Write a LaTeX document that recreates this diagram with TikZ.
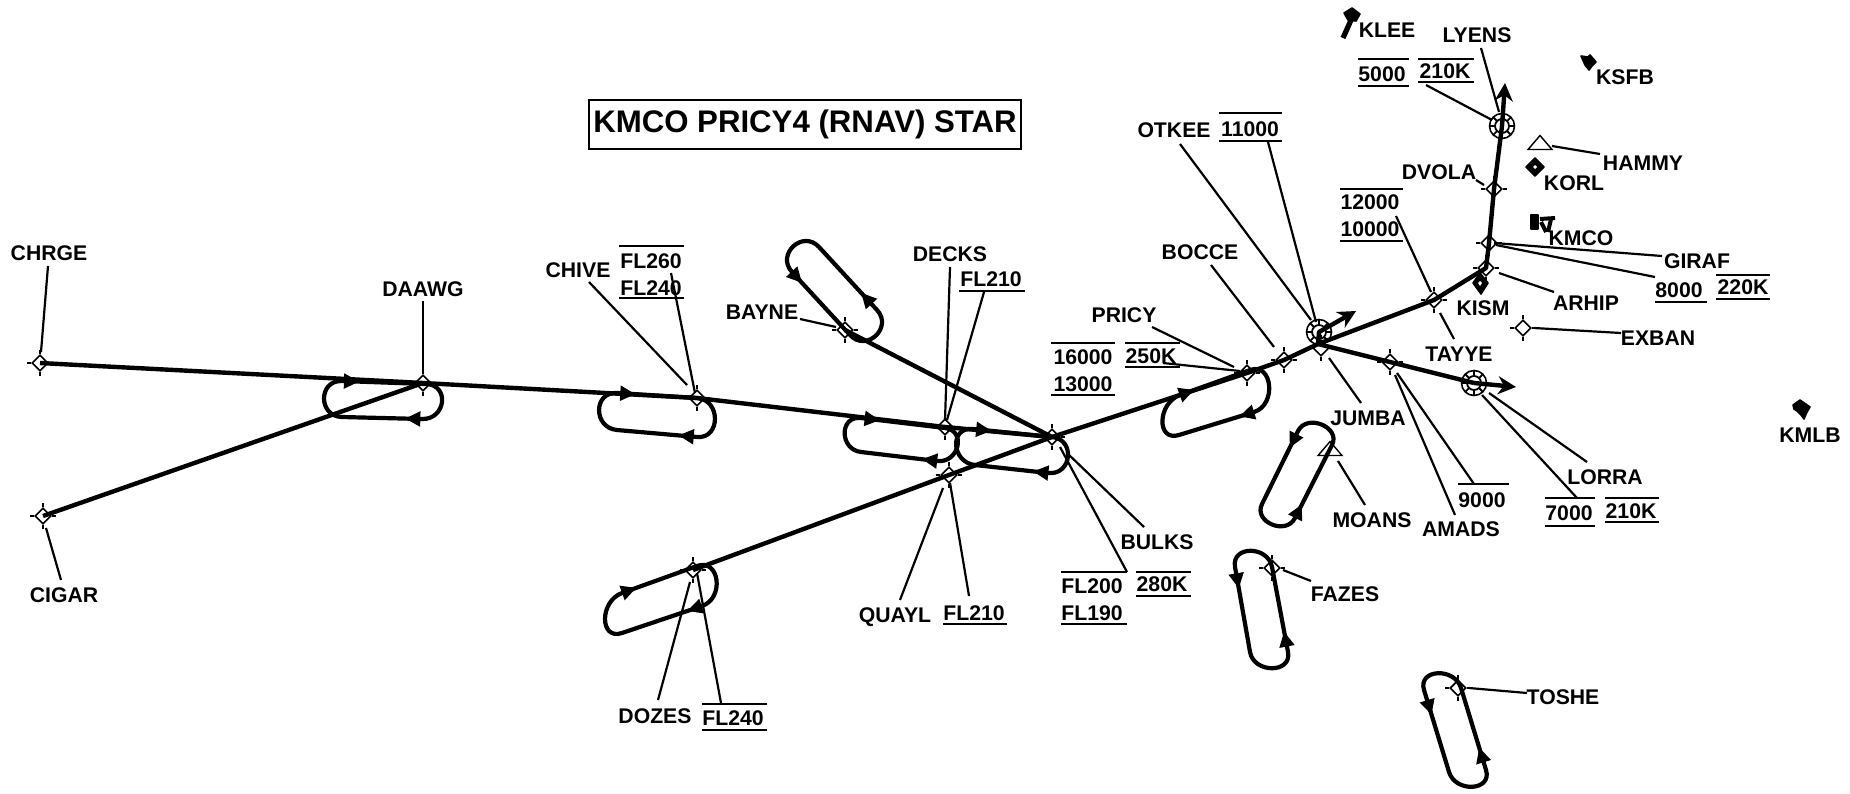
\documentclass[tikz,border=0pt]{standalone}
\usepackage{fontspec}
\setmainfont{Liberation Sans}
\usetikzlibrary{arrows.meta,calc,shapes.geometric}
\tikzset{
  lbl/.style={inner sep=0pt,text depth=0pt,font=\fontsize{10.6}{12}\selectfont\bfseries},
  titlebox/.style={draw,line width=.8pt,minimum width=216pt,minimum height=24.5pt,inner sep=0pt,font=\fontsize{15.6}{18}\selectfont\bfseries},
  fixmark/.style={draw,diamond,aspect=1,inner sep=0pt,minimum width=8pt,minimum height=8pt,line width=.8pt},
  fixtick/.style={line width=.9pt},
  vorring/.style={draw,circle,inner sep=0pt,minimum size=12.5pt,line width=.8pt},
  tri/.style={draw,line width=.7pt,isosceles triangle,shape border rotate=90,isosceles triangle stretches,inner sep=0pt,minimum width=12pt,minimum height=7pt},
  route/.style={line width=2.2pt,line join=round},
  routetip/.style={route,-{Stealth[length=9pt,width=9pt]}},
  holdline/.style={line width=2.1pt,line join=round},
  holdtip/.style={fill=black,isosceles triangle,isosceles triangle apex angle=55,inner sep=0pt,minimum height=7.5pt,sloped,allow upside down},
  leader/.style={line width=1.1pt},
  altline/.style={line width=.8pt},
  blob/.style={fill=black,draw=black,line width=.8pt,line join=round},
}
\newcommand\fix[3]{\node[fixmark] (#1) at (#2,#3) {};
  \draw[fixtick] (#1.north) -- ++(0,-4) (#1.south) -- ++(0,4) (#1.east) -- ++(4,0) (#1.west) -- ++(-4,0);}
\newcommand\vor[3]{\node[vorring] (#1) at (#2,#3) {};
  \draw[fixtick] (#1.center) circle[radius=3.5pt];
  \foreach \a in {0,45,...,315}{\draw[fixtick] (#1.center) ++(\a:7) -- ++(\a:5);}}
\newcommand\lead[6]{\draw[leader] ([shift={(#2,#3)}]#1.center) -- ([shift={(#5,#6)}]#4.center);}
\newcommand\altbar[3]{\draw[altline] (#1,#3) -- (#2,#3);}
\newcommand\hold[7]{\draw[holdline] (#1) -- node[holdtip,pos=#6] {} (#2)
  .. controls ($(#2)!-#5!(#1)$) and ($(#3)!-#5!(#4)$) .. (#3)
  -- node[holdtip,pos=#7] {} (#4)
  .. controls ($(#4)!-#5!(#3)$) and ($(#1)!-#5!(#2)$) .. (#1);}
\begin{document}
\begin{tikzpicture}[x=.5pt,y=-.5pt]
\useasboundingbox (0,0) rectangle (1850,793);
\node[titlebox] (title) at (805,124.5) {KMCO PRICY4 (RNAV) STAR};
% fixes
\fix{fCHRGE}{40}{363}
\fix{fCIGAR}{43}{516}
\fix{fDAAWG}{423}{383}
\fix{fCHIVE}{697}{398}
\fix{fDECKS}{945}{427}
\fix{fBULKS}{1052}{437}
\fix{fBAYNE}{845}{330}
\fix{fQUAYL}{949}{475}
\fix{fDOZES}{693}{570}
\fix{fPRICY}{1247}{373}
\fix{fBOCCE}{1284}{360}
\fix{fJUMBA}{1321}{348}
\fix{fTAYYE}{1434}{300}
\fix{fARHIP}{1486}{268}
\fix{fGIRAF}{1489}{243}
\fix{fDVOLA}{1494}{189}
\fix{fAMADS}{1390}{362}
\fix{fEXBAN}{1523}{328}
\fix{fFAZES}{1272}{568}
\fix{fTOSHE}{1458}{688}
\vor{vOTKEE}{1319}{332}
\vor{vLYENS}{1502}{126}
\vor{vLORRA}{1474}{383}
\node[tri] (tHAMMY) at (1540,144) {};
\node[tri] (tMOANS) at (1330,450) {};
\coordinate (jct) at (1318,344);
\coordinate (tipLYENS) at (1505,83);
\coordinate (tipOTKEE) at (1356,311);
\coordinate (tipLORRA) at (1516,387);
% routes
\draw[route] (fCHRGE.center) -- (fDAAWG.center) -- (fCHIVE.center) -- (fDECKS.center) -- (fBULKS.center);
\draw[route] (fCIGAR.center) -- (fDAAWG.center);
\draw[route] (fBAYNE.center) -- (fBULKS.center);
\draw[route] (fDOZES.center) -- (fQUAYL.center) -- (fBULKS.center) -- (fPRICY.center) -- (fBOCCE.center) -- (jct);
\draw[route] (jct) -- (fTAYYE.center) -- (fARHIP.center) -- (fGIRAF.center) -- (fDVOLA.center) -- (vLYENS.center);
\draw[routetip] (vLYENS.center) -- (tipLYENS);
\draw[routetip] (jct) -- (vOTKEE.center) -- (tipOTKEE);
\draw[route] (jct) -- (fAMADS.center) -- (vLORRA.center);
\draw[routetip] (vLORRA.center) -- (tipLORRA);
% holds
\hold{342,381}{426,384}{422,419}{342,417}{12pt}{.08}{.08}
\hold{617,393}{697,398}{697,437}{617,430}{12pt}{.1}{.1}
\hold{861,418}{945,428}{937,461}{861,452}{11pt}{.1}{.06}
\hold{973,429}{1052,437}{1048,473}{975,465}{12pt}{.1}{.06}
\hold{1180,395}{1250,370}{1254,412}{1179,435}{12pt}{.06}{.06}
\hold{622,593}{697,566}{702,606}{622,633}{12pt}{.06}{.06}
\hold{792,272}{850,335}{877,310}{819,247}{12pt}{.05}{.15}
\hold{1295,518}{1332,445}{1298,431}{1262,504}{10pt}{.06}{.1}
\hold{1288,652}{1272,567}{1235,567}{1250,652}{11pt}{.12}{.13}
\hold{1486,770}{1461,688}{1424,690}{1449,772}{11pt}{.15}{.18}
% labels
\node[lbl] (lCHRGE) at (49,253) {CHRGE};
\node[lbl] (lCIGAR) at (64,595) {CIGAR};
\node[lbl] (lDAAWG) at (423,289) {DAAWG};
\node[lbl] (lCHIVE) at (578,270) {CHIVE};
\node[lbl] (aCHIVEt) at (651,261) {FL260};
\node[lbl] (aCHIVEb) at (651,288) {FL240};
\node[lbl] (lDECKS) at (950,254) {DECKS};
\node[lbl] (aDECKS) at (991,279) {FL210};
\node[lbl] (lBAYNE) at (762,312) {BAYNE};
\node[lbl] (lQUAYL) at (895,615) {QUAYL};
\node[lbl] (aQUAYL) at (974,613) {FL210};
\node[lbl] (lDOZES) at (655,716) {DOZES};
\node[lbl] (aDOZES) at (733,718) {FL240};
\node[lbl] (lBULKS) at (1157,542) {BULKS};
\node[lbl] (aBULKSt) at (1092,586) {FL200};
\node[lbl] (aBULKSb) at (1092,613) {FL190};
\node[lbl] (sBULKS) at (1162,584) {280K};
\node[lbl] (lPRICY) at (1124,315) {PRICY};
\node[lbl] (aPRICYt) at (1083,357) {16000};
\node[lbl] (aPRICYb) at (1083,384) {13000};
\node[lbl] (sPRICY) at (1151,356) {250K};
\node[lbl] (lBOCCE) at (1200,252) {BOCCE};
\node[lbl] (lOTKEE) at (1174,130) {OTKEE};
\node[lbl] (aOTKEE) at (1250,129) {11000};
\node[lbl] (lJUMBA) at (1368,418) {JUMBA};
\node[lbl] (aTAYYEt) at (1370,202) {12000};
\node[lbl] (aTAYYEb) at (1370,229) {10000};
\node[lbl] (lTAYYE) at (1459,354) {TAYYE};
\node[lbl] (lAMADS) at (1461,529) {AMADS};
\node[lbl] (aAMADS) at (1482,500) {9000};
\node[lbl] (lLORRA) at (1605,477) {LORRA};
\node[lbl] (aLORRA) at (1569,513) {7000};
\node[lbl] (sLORRA) at (1631,511) {210K};
\node[lbl] (lMOANS) at (1372,520) {MOANS};
\node[lbl] (lFAZES) at (1345,594) {FAZES};
\node[lbl] (lTOSHE) at (1563,697) {TOSHE};
\node[lbl] (lEXBAN) at (1658,338) {EXBAN};
\node[lbl] (lARHIP) at (1586,303) {ARHIP};
\node[lbl] (lKISM) at (1483,308) {KISM};
\node[lbl] (lGIRAF) at (1697,261) {GIRAF};
\node[lbl] (aGIRAF) at (1679,290) {8000};
\node[lbl] (sGIRAF) at (1743,287) {220K};
\node[lbl] (lDVOLA) at (1439,172) {DVOLA};
\node[lbl] (lLYENS) at (1477,35) {LYENS};
\node[lbl] (aLYENS) at (1382,74) {5000};
\node[lbl] (sLYENS) at (1445,71) {210K};
\node[lbl] (lHAMMY) at (1643,163) {HAMMY};
\node[lbl] (lKLEE) at (1387,30) {KLEE};
\node[lbl] (lKSFB) at (1625,77) {KSFB};
\node[lbl] (lKORL) at (1574,183) {KORL};
\node[lbl] (lKMCO) at (1581,238) {KMCO};
\node[lbl] (lKMLB) at (1810,435) {KMLB};
% altitude and speed bars
\altbar{619}{684}{246}\altbar{619}{684}{298}
\altbar{959}{1025}{291}
\altbar{943}{1007}{624}
\altbar{702}{767}{704}\altbar{702}{767}{730}
\altbar{1061}{1127}{572}\altbar{1061}{1127}{624}
\altbar{1136}{1191}{572}\altbar{1136}{1191}{596}
\altbar{1051}{1115}{343}\altbar{1051}{1115}{395}
\altbar{1125}{1180}{343}\altbar{1125}{1180}{367}
\altbar{1219}{1282}{113}\altbar{1219}{1282}{141}
\altbar{1340}{1403}{189}\altbar{1340}{1403}{241}
\altbar{1458}{1509}{484}
\altbar{1545}{1595}{498}\altbar{1545}{1595}{526}
\altbar{1605}{1659}{498}\altbar{1605}{1659}{522}
\altbar{1655}{1707}{302}
\altbar{1716}{1770}{275}\altbar{1716}{1770}{299}
\altbar{1358}{1409}{59}\altbar{1358}{1409}{86}
\altbar{1418}{1474}{59}\altbar{1418}{1474}{82}
% leaders
\lead{lCHRGE}{-1}{13}{fCHRGE}{1}{-11}
\lead{lCIGAR}{-3}{-15}{fCIGAR}{3}{12}
\lead{lDAAWG}{0}{12}{fDAAWG}{0}{-10}
\lead{lCHIVE}{11}{12}{fCHIVE}{-10}{-13}
\lead{aCHIVEt}{20}{12}{fCHIVE}{-2}{-5}
\lead{lDECKS}{0}{13}{fDECKS}{0}{-7}
\lead{aDECKS}{-7}{13}{fDECKS}{2}{-7}
\lead{lBAYNE}{38}{7}{fBAYNE}{-9}{-3}
\lead{lQUAYL}{5}{-15}{fQUAYL}{-6}{13}
\lead{aQUAYL}{-5}{-17}{fQUAYL}{1}{8}
\lead{lDOZES}{3}{-16}{fDOZES}{-3}{12}
\lead{aDOZES}{-12}{-15}{fDOZES}{4}{3}
\lead{lBULKS}{-13}{-15}{fBULKS}{15}{16}
\lead{aBULKSt}{35}{-14}{fBULKS}{8}{10}
\lead{lPRICY}{28}{12}{fPRICY}{-13}{-6}
\lead{sPRICY}{12}{7}{fPRICY}{-7}{-2}
\lead{lBOCCE}{11}{13}{fBOCCE}{-10}{-13}
\lead{lOTKEE}{6}{14}{vOTKEE}{-8}{-12}
\lead{aOTKEE}{18}{13}{vOTKEE}{-3}{-10}
\lead{lJUMBA}{-7}{-15}{fJUMBA}{8}{10}
\lead{aTAYYEt}{26}{14}{fTAYYE}{-3}{-8}
\lead{lTAYYE}{-5}{-15}{fTAYYE}{6}{13}
\lead{lAMADS}{-6}{-14}{fAMADS}{5}{13}
\lead{aAMADS}{-8}{-16}{fAMADS}{7}{11}
\lead{lLORRA}{-18}{-15}{vLORRA}{15}{10}
\lead{aLORRA}{8}{-15}{vLORRA}{8}{12}
\lead{lMOANS}{-7}{-15}{tMOANS}{8}{11}
\lead{lFAZES}{-34}{-13}{fFAZES}{11}{2}
\lead{lTOSHE}{-36}{-4}{fTOSHE}{11}{0}
\lead{lEXBAN}{-37}{-5}{fEXBAN}{11}{0}
\lead{lARHIP}{-32}{-11}{fARHIP}{13}{5}
\lead{lGIRAF}{-35}{-5}{fGIRAF}{5}{0}
\lead{aGIRAF}{-24}{-13}{fGIRAF}{7}{2}
\lead{lDVOLA}{37}{8}{fDVOLA}{-10}{-4}
\lead{lLYENS}{4}{13}{vLYENS}{-3}{-14}
\lead{sLYENS}{-19}{14}{vLYENS}{-10}{-6}
\lead{lHAMMY}{-43}{-9}{tHAMMY}{12}{2}
% airport symbols
\fill[blob] (1352,8) -- (1360,14) -- (1356,21) -- (1348,20) -- (1344,13) -- cycle;
\draw[line width=2.6pt] (1343,38) -- (1351,20);
\fill[blob] (1581,56) -- (1588,57) -- (1590,55) -- (1596,62) -- (1592,66) -- (1589,70) -- (1585,65) -- cycle;
\fill[blob] (1535,158) -- (1544,167) -- (1535,176) -- (1526,167) -- cycle;
\fill[white] (1535,165) -- (1537,167) -- (1535,169) -- (1533,167) -- cycle;
\fill[blob] (1531,215) rectangle (1538,229);
\draw[line width=2pt] (1540,219) -- (1555,218) (1541,222) -- (1546,232) (1551,219) -- (1548,232);
\fill[blob] (1480,273) -- (1488,283) -- (1481,294) -- (1473,283) -- cycle;
\fill[white] (1480,281) -- (1482,283) -- (1480,286) -- (1478,283) -- cycle;
\fill[blob] (1793,405) -- (1800,400) -- (1810,407) -- (1807,412) -- (1804,419) -- (1801,415) -- (1797,411) -- (1794,409) -- cycle;
\end{tikzpicture}
\end{document}
